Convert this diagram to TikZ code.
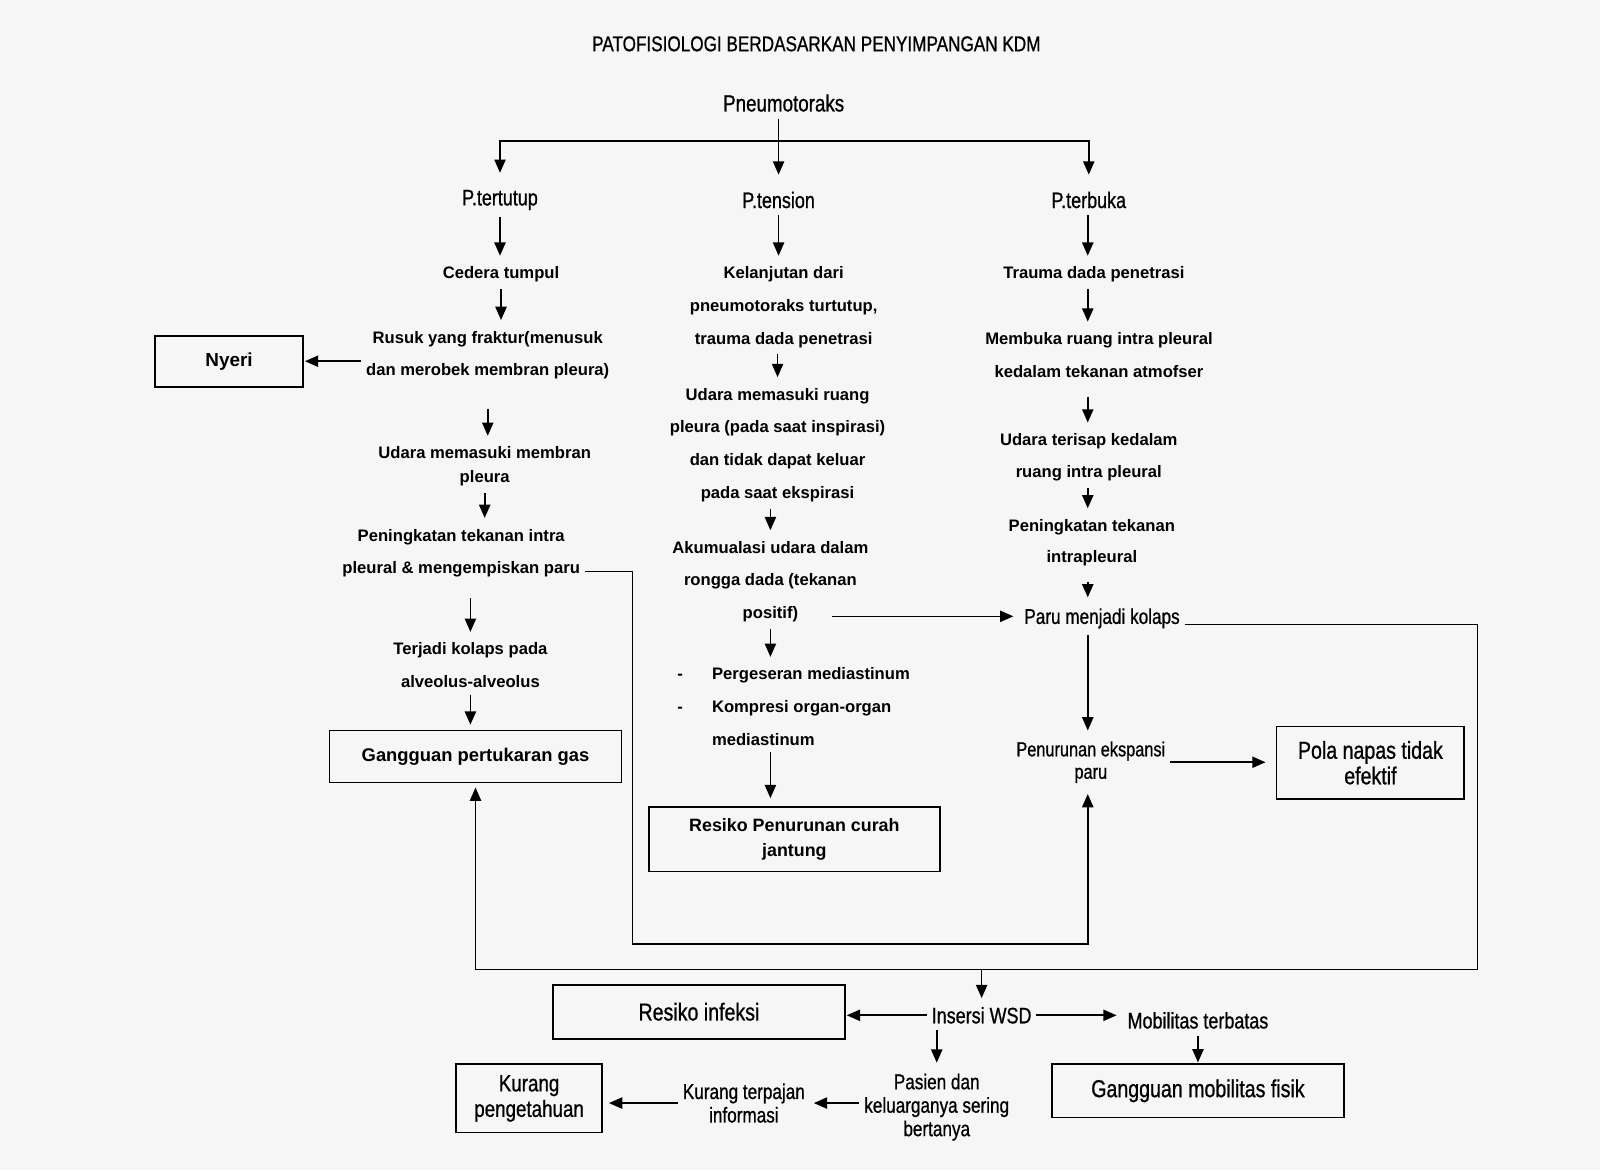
\documentclass[tikz,border=0pt]{standalone}
\usepackage{fontspec}
\setmainfont{Liberation Sans}
\newfontfamily\narrowfont[FakeStretch=0.8,FakeBold=0.8]{Liberation Sans}
\usepackage{tikz}
\usetikzlibrary{
  arrows.meta
}
\definecolor{paper}{RGB}{246,246,246}
\tikzset{
  bodyt/.style={font=\fontsize{16.3}{32}\selectfont\bfseries,align=center,inner xsep=4pt,inner ysep=6pt},
  tightt/.style={bodyt,font=\fontsize{16.3}{23}\selectfont\bfseries},
  lbl/.style={font=\narrowfont\fontsize{22}{23}\selectfont,align=center,inner xsep=4pt,inner ysep=6pt},
  boxt/.style={draw,line width=1.6pt,align=center,inner sep=2pt},
  arr/.style={-{Triangle[length=13pt,width=11pt]},shorten >=4pt},
}

\begin{document}
\begin{tikzpicture}[x=1pt,y=-1pt,line width=1.6pt]
\fill[paper] (0,0) rectangle (1568,1147);
\node[lbl,font=\narrowfont\fontsize{21}{23}\selectfont] (judul) at (800,43) {PATOFISIOLOGI BERDASARKAN PENYIMPANGAN KDM};
\node[lbl,font=\narrowfont\fontsize{23}{23}\selectfont] (pneumo) at (768,101) {Pneumotoraks};
\node[lbl] (ptutup) at (490,196) {P.tertutup};
\node[lbl] (ptension) at (763,196) {P.tension};
\node[lbl] (pbuka) at (1067,196) {P.terbuka};
\coordinate (fork) at (763,138);
\coordinate (kanan) at (1066,0);
% kiri
\node[bodyt] (cedera) at (491,269) {Cedera tumpul};
\node[bodyt] (rusuk) at (478,348) {Rusuk yang fraktur(menusuk\\dan merobek membran pleura)};
\node[boxt,font=\fontsize{18.5}{25}\selectfont\bfseries,minimum width=145pt,minimum height=50pt] (nyeri) at (224.5,354) {Nyeri};
\node[tightt] (udara1) at (475,457) {Udara memasuki membran\\pleura};
\node[bodyt] (naik1) at (452,542) {Peningkatan tekanan intra\\pleural \& mengempiskan paru};
\node[bodyt] (kolaps1) at (461,652) {Terjadi kolaps pada\\alveolus-alveolus};
\node[boxt,font=\fontsize{18}{25}\selectfont\bfseries,minimum width=286pt,minimum height=51pt] (gas) at (466,741.5) {Gangguan pertukaran gas};
% tengah
\node[bodyt] (lanjut) at (768,301) {Kelanjutan dari\\pneumotoraks turtutup,\\trauma dada penetrasi};
\node[bodyt] (udara2) at (762,436) {Udara memasuki ruang\\pleura (pada saat inspirasi)\\dan tidak dapat keluar\\pada saat ekspirasi};
\node[bodyt] (akum) at (755,570) {Akumualasi udara dalam\\rongga dada (tekanan\\positif)};
\coordinate (posend) at (815,604);
\node[bodyt,align=left,anchor=west] (medias) at (659,692.5) {\makebox[34pt][l]{-}Pergeseran mediastinum\\\makebox[34pt][l]{-}Kompresi organ-organ\\\hspace*{34pt}mediastinum};
\node[boxt,font=\fontsize{17.5}{25}\selectfont\bfseries,minimum width=285pt,minimum height=63pt] (jantung) at (778.5,822.5) {Resiko Penurunan curah\\jantung};
% kanan
\node[bodyt] (trauma) at (1072,269) {Trauma dada penetrasi};
\node[bodyt] (membuka) at (1077,348) {Membuka ruang intra pleural\\kedalam tekanan atmofser};
\node[bodyt,font=\fontsize{16.3}{31}\selectfont\bfseries] (terisap) at (1067,448) {Udara terisap kedalam\\ruang intra pleural};
\node[bodyt,font=\fontsize{16.3}{31}\selectfont\bfseries] (naik2) at (1070,532) {Peningkatan tekanan\\intrapleural};
\node[lbl,font=\narrowfont\fontsize{21}{23}\selectfont] (kolaps2) at (1080,606) {Paru menjadi kolaps};
\node[lbl,font=\narrowfont\fontsize{20}{22}\selectfont] (ekspansi) at (1069,747) {Penurunan ekspansi\\paru};
\node[boxt,font=\narrowfont\fontsize{24}{25}\selectfont,minimum width=184pt,minimum height=71pt] (pola) at (1343,747.5) {Pola napas tidak\\efektif};
\coordinate (kink) at (620,560);
\coordinate (botL) at (620,925);
\coordinate (rtop) at (1448,612);
\coordinate (rbot) at (1448,950);
% bawah
\node[lbl] (wsd) at (962,995) {Insersi WSD};
\node[boxt,font=\narrowfont\fontsize{24}{25}\selectfont,minimum width=286pt,minimum height=53pt] (infeksi) at (685,991.5) {Resiko infeksi};
\node[lbl] (mobil) at (1174,1000) {Mobilitas terbatas};
\node[boxt,font=\narrowfont\fontsize{24}{25}\selectfont,minimum width=286pt,minimum height=52pt] (fisik) at (1174,1069) {Gangguan mobilitas fisik};
\node[lbl,font=\narrowfont\fontsize{21}{23}\selectfont] (pasien) at (918,1085) {Pasien dan\\keluarganya sering\\bertanya};
\node[lbl,font=\narrowfont\fontsize{21}{23}\selectfont] (terpajan) at (729,1081) {Kurang terpajan\\informasi};
\node[boxt,font=\narrowfont\fontsize{23}{25}\selectfont,minimum width=143pt,minimum height=67pt] (tahu) at (518.5,1076.5) {Kurang\\pengetahuan};

\draw (pneumo.south -| fork) -- (fork);
\draw[arr,shorten >=10pt] (fork) -| (ptutup.north);
\draw[arr,shorten >=10pt] (fork) -- (ptension.north);
\draw[arr,shorten >=10pt] (fork) -| (pbuka.north);
\draw[arr] (ptutup.south) -- (ptutup.south |- cedera.north);
\draw[arr] (cedera.south) -- (cedera.south |- rusuk.north);
\draw[arr,shorten >=1pt] (rusuk.west |- nyeri.east) -- (nyeri.east);
\draw[arr,shorten <=22pt] (rusuk.south) -- (rusuk.south |- udara1.north);
\draw[arr] (udara1.south) -- (udara1.south |- naik1.north);
\draw[arr,shorten <=14pt] (kolaps1.north |- naik1.south) -- (kolaps1.north);
\draw[arr,shorten >=5pt] (kolaps1.south) -- (kolaps1.south |- gas.north);
\draw[arr] (ptension.south) -- (ptension.south |- lanjut.north);
\draw[arr] (udara2.north |- lanjut.south) -- (udara2.north);
\draw[arr] (akum.north |- udara2.south) -- (akum.north);
\draw[arr] (akum.south) -- (akum.south |- medias.north);
\draw[arr,shorten >=8pt] (akum.south |- medias.south) -- (akum.south |- jantung.north);
\draw[arr,shorten >=6pt] (posend) -- (posend -| kolaps2.west);
\draw[arr] (pbuka.south -| kanan) -- (trauma.north -| kanan);
\draw[arr] (trauma.south -| kanan) -- (membuka.north -| kanan);
\draw[arr,shorten <=12pt] (membuka.south -| kanan) -- (terisap.north -| kanan);
\draw[arr] (terisap.south -| kanan) -- (naik2.north -| kanan);
\draw[arr,shorten <=8pt] (naik2.south -| kanan) -- (kolaps2.north -| kanan);
\draw[arr] (kolaps2.south -| kanan) -- (ekspansi.north -| kanan);
\draw[arr,shorten >=10pt] (ekspansi.east) -- (ekspansi.east -| pola.west);
\draw[arr] (naik1.east |- kink) -- (kink) -- (botL) -| (ekspansi.south -| kanan);
\draw[arr,shorten >=4pt] (kolaps2.east |- rtop) -- (rtop) -- (rbot) -| (gas.south);
\draw[arr,shorten >=2pt] (wsd.north |- rbot) -- (wsd.north);
\draw[arr,shorten >=1pt] (wsd.west) -- (wsd.west -| infeksi.east);
\draw[arr,shorten >=6pt] (wsd.east) -- (wsd.east -| mobil.west);
\draw[arr,shorten >=1pt] (mobil.south) -- (mobil.south |- fisik.north);
\draw[arr] (pasien.north |- wsd.south) -- (pasien.north);
\draw[arr] (pasien.west |- terpajan.east) -- (terpajan.east);
\draw[arr,shorten >=6pt] (terpajan.west) -- (terpajan.west -| tahu.east);
\end{tikzpicture}
\end{document}
